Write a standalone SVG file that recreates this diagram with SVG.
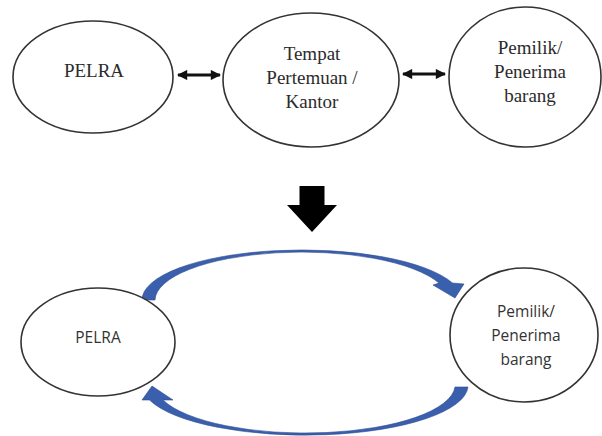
<svg xmlns="http://www.w3.org/2000/svg" width="602" height="436" viewBox="0 0 602 436">
  <style>
    .node { fill: #ffffff; stroke: #333333; stroke-width: 1.6; }
    .serif { font-family: "Liberation Serif", "Times New Roman", serif; font-size: 19px; fill: #2b2b2b; text-anchor: middle; }
    .sans { font-family: "Open Sans", "Liberation Sans", sans-serif; font-size: 15.5px; fill: #333333; text-anchor: middle; }
    .link { stroke: #111111; stroke-width: 3; fill: none; }
    .flow { fill: #3a5fad; stroke: #2d4c8e; stroke-width: 0.6; }
  </style>
  <defs>
    <marker id="head" viewBox="0 0 10 10" refX="9" refY="5" markerWidth="4" markerHeight="3.4" orient="auto-start-reverse" markerUnits="strokeWidth">
      <path d="M0,0 L10,5 L0,10 z" fill="#111111"/>
    </marker>
  </defs>

  <rect width="602" height="436" fill="#ffffff"/>

  <!-- connectors -->
  <g id="connectors">
    <line class="link" x1="178" y1="75" x2="220" y2="75" marker-start="url(#head)" marker-end="url(#head)"/>
    <line class="link" x1="403" y1="74" x2="445" y2="74" marker-start="url(#head)" marker-end="url(#head)"/>
    <!-- transition arrow between the two layouts -->
    <path d="M299.5,186 H324.5 V205 H337 L312,232 L287,205 H299.5 Z" fill="#000000"/>
    <!-- upper curved flow: PELRA to owner -->
    <path class="flow" d="M142,300 A160,50 0 0 1 452.5,283 L464,284 L455,298 L433,285 L439,283 A147,48.5 0 0 0 155,300 Z"/>
    <!-- lower curved flow: owner back to PELRA -->
    <path class="flow" d="M468,387 A163,50 0 0 1 149.5,400 L142,400 L152,386 L173,400 L163,400 A150,48.5 0 0 0 455,387 Z"/>
  </g>

  <!-- nodes, first layout -->
  <g id="pelra-top">
    <ellipse class="node" cx="93" cy="77" rx="80" ry="56"/>
    <text class="serif" x="94" y="77">PELRA</text>
  </g>
  <g id="kantor">
    <ellipse class="node" cx="311" cy="80" rx="88" ry="67"/>
    <text class="serif" x="312" y="60">Tempat</text>
    <text class="serif" x="312" y="84">Pertemuan /</text>
    <text class="serif" x="312" y="108">Kantor</text>
  </g>
  <g id="pemilik-top">
    <ellipse class="node" cx="525" cy="77" rx="76" ry="70"/>
    <text class="serif" x="530" y="54">Pemilik/</text>
    <text class="serif" x="530" y="78">Penerima</text>
    <text class="serif" x="530" y="102">barang</text>
  </g>

  <!-- nodes, second layout -->
  <g id="pelra-bottom">
    <ellipse class="node" cx="98" cy="342" rx="77" ry="54"/>
    <text class="sans" x="98" y="343">PELRA</text>
  </g>
  <g id="pemilik-bottom">
    <ellipse class="node" cx="524" cy="335" rx="74" ry="67"/>
    <text class="sans" x="526" y="317">Pemilik/</text>
    <text class="sans" x="526" y="341">Penerima</text>
    <text class="sans" x="526" y="365">barang</text>
  </g>
</svg>
